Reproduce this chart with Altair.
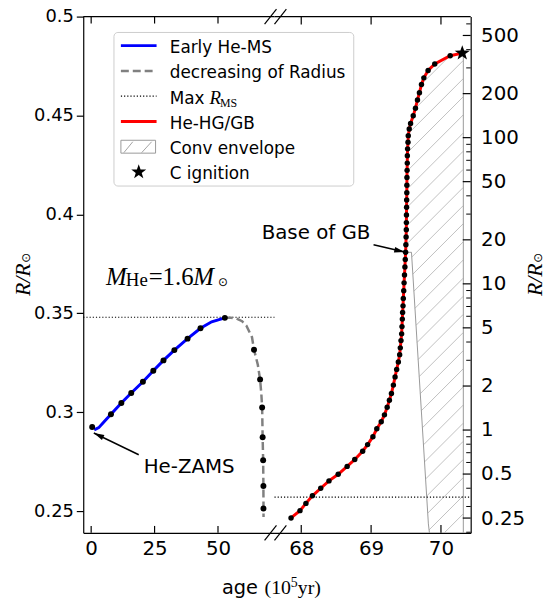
import math
import numpy as np
import pandas as pd
import altair as alt

# ----------------------------- data -----------------------------
ms_line_age = [1.2, 3.0, 5.0, 7.8, 11.9, 15.8, 20.4, 24.5, 28.5, 32.8, 38.0, 43.1, 47.5, 52.7]
ms_line_r = [0.2911, 0.2922, 0.2950, 0.2990, 0.3047, 0.3097, 0.3154, 0.3210, 0.3262, 0.3314, 0.3372, 0.3424, 0.3457, 0.3477]
ms_dot_age = [0.4, 7.8, 11.9, 15.8, 20.4, 24.5, 28.5, 32.8, 38.0, 43.1, 52.7]
ms_dot_r = [0.2925, 0.2990, 0.3047, 0.3097, 0.3154, 0.3210, 0.3262, 0.3314, 0.3372, 0.3424, 0.3477]
dec_line_age = [52.7, 55.0, 57.3, 59.5, 61.2, 63.4, 64.2, 65.7, 66.6, 67.1, 67.4, 67.6, 67.8, 67.9, 67.95]
dec_line_r = [0.3477, 0.3478, 0.3474, 0.3460, 0.3437, 0.3379, 0.3316, 0.3240, 0.3165, 0.3090, 0.3024, 0.2873, 0.2757, 0.2627, 0.2470]
dec_dot_age = [64.2, 66.6, 67.4, 67.6, 67.8, 67.9, 67.92]
dec_dot_r = [0.3316, 0.3165, 0.3024, 0.2873, 0.2757, 0.2627, 0.2513]
R_MS_MAX = 0.348

red_age = [67.854, 67.982, 68.067, 68.160, 68.279, 68.397, 68.529, 68.657, 68.766, 68.879,
           68.950, 69.026, 69.082, 69.145, 69.191, 69.230, 69.262, 69.291, 69.319, 69.343,
           69.366, 69.390, 69.409, 69.418, 69.428, 69.437, 69.442, 69.447, 69.451, 69.457,
           69.461, 69.467, 69.472, 69.478, 69.484, 69.489, 69.494, 69.498, 69.501, 69.504,
           69.505, 69.506, 69.508, 69.509, 69.511, 69.512, 69.513, 69.515, 69.518, 69.519,
           69.522, 69.528, 69.532, 69.546, 69.565, 69.603, 69.635, 69.664, 69.692, 69.721,
           69.755, 69.816, 69.911, 70.132]
red_r = [0.2505, 0.281, 0.315, 0.355, 0.400, 0.449, 0.498, 0.564, 0.629, 0.717,
         0.795, 0.901, 1.02, 1.14, 1.27, 1.43, 1.60, 1.78, 2.03, 2.31,
         2.60, 2.92, 3.28, 3.65, 4.09, 4.55, 5.10, 5.74, 6.38, 7.07,
         7.94, 8.97, 10.16, 11.51, 13.04, 14.66, 16.43, 18.53, 20.89, 23.42,
         26.24, 29.59, 33.38, 37.41, 41.93, 47.27, 53.32, 59.75, 66.96, 75.16,
         83.82, 92.92, 103.2, 114.6, 125.0, 141.0, 159.0, 181.0, 202.8, 231.2,
         256.5, 287.8, 319.0, 363.7]
STAR_AGE, STAR_R = 70.305, 378.6
GB_R = 16.43
env_right_age = 70.32
env_low_age = [69.835, 69.82, 69.578, 69.494]
env_low_r = [0.198, 0.228, 16.43, 16.43]

left_x_ticks = [0, 25, 50]
left_y_ticks = [0.25, 0.3, 0.35, 0.4, 0.45, 0.5]
right_x_ticks = [68, 69, 70]
right_y_ticks = [0.25, 0.5, 1, 2, 5, 10, 20, 50, 100, 200, 500]
right_y_minor = [0.2, 0.3, 0.4, 0.6, 0.7, 0.8, 0.9, 3, 4, 6, 7, 8, 9,
                 30, 40, 60, 70, 80, 90, 300, 400, 600]

legend_labels = ["Early He-MS", "decreasing of Radius", "Max", "He-HG/GB", "Conv envelope", "C ignition"]

# ----------------------------- layout -----------------------------
LW, RW, H = 193, 198, 521
L_DOM = [-3.125, 72.27]
R_DOM = [67.617, 70.4255]
YL_DOM = [0.239, 0.5]
YR_DOM = [0.198, 673.0]

xl_scale = alt.Scale(domain=L_DOM, nice=False, zero=False)
yl_scale = alt.Scale(domain=YL_DOM, nice=False, zero=False)
xr_scale = alt.Scale(domain=R_DOM, nice=False, zero=False)
yr_scale = alt.Scale(type="log", domain=YR_DOM, nice=False)

ppaL = LW / (L_DOM[1] - L_DOM[0])
pprL = H / (YL_DOM[1] - YL_DOM[0])
ppaR = RW / (R_DOM[1] - R_DOM[0])
ly0, ly1 = math.log10(YR_DOM[0]), math.log10(YR_DOM[1])
ppdR = H / (ly1 - ly0)

SANS = "DejaVu Sans"
SERIF = "Liberation Serif"
one = pd.DataFrame({"k": [0]})

axis_common = dict(labelFont=SANS, labelColor="black", domainColor="black", domainWidth=1.2,
                   grid=False, title=None, labelOverlap=False)
left_x_axis = alt.Axis(values=left_x_ticks, ticks=False, labelPadding=6, labelFontSize=20, **axis_common)
left_y_axis = alt.Axis(values=left_y_ticks, format="~g", tickSize=7, tickWidth=1.2, tickColor="black",
                       labelPadding=3, labelFontSize=18, **axis_common)
right_x_axis = alt.Axis(values=right_x_ticks, ticks=False, labelPadding=6, labelFontSize=20, **axis_common)
right_y_axis = alt.Axis(values=right_y_ticks, format="~g", orient="right", ticks=False,
                        labelPadding=10, labelFontSize=20, **axis_common)


def XL(f="age"):
    return alt.X(f, type="quantitative", scale=xl_scale, axis=left_x_axis)


def YL(f="r"):
    return alt.Y(f, type="quantitative", scale=yl_scale, axis=left_y_axis)


def XR(f="age"):
    return alt.X(f, type="quantitative", scale=xr_scale, axis=right_x_axis)


def YR(f="r"):
    return alt.Y(f, type="quantitative", scale=yr_scale, axis=right_y_axis)


def txt(x, y, s, size, font=SANS, style="normal", align="left", baseline="alphabetic", angle=0):
    return alt.Chart(one).mark_text(text=s, fontSize=size, font=font, fontStyle=style, align=align,
                                    baseline=baseline, angle=angle, color="black").encode(
        x=alt.value(x), y=alt.value(y))


def seg(x1, y1, x2, y2, color="black", width=1.2, dash=None):
    kw = dict(color=color, strokeWidth=width)
    if dash:
        kw["strokeDash"] = dash
    return alt.Chart(one).mark_rule(**kw).encode(x=alt.value(x1), y=alt.value(y1),
                                                x2=alt.value(x2), y2=alt.value(y2))


def ang(dx, dy):
    return float(math.degrees(math.atan2(dx, -dy)) % 360)


ARROW = "M0,0L0.55,2L-0.55,2Z"
_pts = []
for k in range(10):
    rad = 1.0 if k % 2 == 0 else 0.40
    a = math.radians(-90 + 36 * k)
    _pts.append(f"{rad * math.cos(a):.4f},{rad * math.sin(a):.4f}")
STAR = "M" + "L".join(_pts) + "Z"

# ----------------------------- left panel -----------------------------
df_ms = pd.DataFrame({"age": ms_line_age, "r": ms_line_r, "i": list(range(len(ms_line_age)))})
df_dec = pd.DataFrame({"age": dec_line_age, "r": dec_line_r, "i": list(range(len(dec_line_age)))})
df_ldots = pd.DataFrame({"age": ms_dot_age + dec_dot_age, "r": ms_dot_r + dec_dot_r})

blue = alt.Chart(df_ms).mark_line(color="#0000ff", strokeWidth=3).encode(x=XL(), y=YL(), order="i:Q")
dashed = alt.Chart(df_dec).mark_line(color="#808080", strokeWidth=2.5, strokeDash=[8, 4]).encode(
    x=XL(), y=YL(), order="i:Q")
ldots = alt.Chart(df_ldots).mark_circle(size=36, color="black", opacity=1).encode(x=XL(), y=YL())
rms_l = alt.Chart(pd.DataFrame({"r": [R_MS_MAX]})).mark_rule(color="black", strokeWidth=1.2, strokeDash=[1.2, 2]).encode(
    y=YL(), x=alt.value(0), x2=alt.value(LW))

ltick_df = pd.DataFrame({"age": left_x_ticks})
ltick_top = alt.Chart(ltick_df).mark_rule(color="black", strokeWidth=1.2).encode(x=XL(), y=alt.value(0), y2=alt.value(7))
ltick_bot = alt.Chart(ltick_df).mark_rule(color="black", strokeWidth=1.2).encode(x=XL(), y=alt.value(H - 7), y2=alt.value(H))

zt_a, zt_r = 1.05, 0.2895
zs_a, zs_r = 18.75, 0.2785
zams_arrow = alt.Chart(pd.DataFrame({"age": [zs_a], "r": [zs_r], "age2": [zt_a], "r2": [zt_r]})).mark_rule(
    color="black", strokeWidth=1.5).encode(x=XL(), y=YL(), x2=alt.X2("age2"), y2=alt.Y2("r2"))
zams_head = alt.Chart(pd.DataFrame({"age": [zt_a], "r": [zt_r]})).mark_point(
    shape=ARROW, filled=True, size=110, opacity=1, color="black",
    angle=ang((zt_a - zs_a) * ppaL, -(zt_r - zs_r) * pprL)).encode(x=XL(), y=YL())
zams_text = alt.Chart(pd.DataFrame({"age": [20.7], "r": [0.2694]})).mark_text(
    text="He-ZAMS", fontSize=20, font=SANS, align="left", baseline="alphabetic", color="black").encode(x=XL(), y=YL())

leg_y = [29.3 + 25.5 * i for i in range(6)]
legend = [
    alt.Chart(one).mark_rect(fill="white", fillOpacity=0.85, stroke="#cccccc", strokeWidth=1, cornerRadius=4).encode(
        x=alt.value(31), x2=alt.value(273), y=alt.value(16), y2=alt.value(171)),
    seg(38, leg_y[0], 74, leg_y[0], color="#0000ff", width=3),
    seg(38, leg_y[1], 74, leg_y[1], color="#808080", width=2.5, dash=[8, 4]),
    seg(38, leg_y[2], 74, leg_y[2], color="black", width=1.2, dash=[1.2, 2]),
    seg(38, leg_y[3], 74, leg_y[3], color="#ff0000", width=3),
    alt.Chart(one).mark_rect(fill="white", stroke="#999999", strokeWidth=1).encode(
        x=alt.value(38), x2=alt.value(73), y=alt.value(leg_y[4] - 6.5), y2=alt.value(leg_y[4] + 6.5)),
    seg(41, leg_y[4] + 6, 50, leg_y[4] - 5, color="#999999", width=0.9),
    seg(59, leg_y[4] + 6, 69, leg_y[4] - 5, color="#999999", width=0.9),
    alt.Chart(one).mark_point(shape=STAR, filled=True, size=250, opacity=1, color="black").encode(
        x=alt.value(56), y=alt.value(leg_y[5])),
]
for i, lab in enumerate(legend_labels):
    legend.append(txt(87.3, leg_y[i] + 7.5, lab, 17))
legend.append(txt(127.5, leg_y[2] + 7.5, "R", 19, font=SERIF, style="italic"))
legend.append(txt(138, leg_y[2] + 11, "MS", 12, font=SERIF))

mhe = [
    txt(23, 271, "M", 25, font=SERIF, style="italic"),
    txt(43, 272, "He", 19, font=SERIF),
    txt(66, 271, "=1.6", 25, font=SERIF),
    txt(111, 271, "M", 25, font=SERIF, style="italic"),
    txt(141, 268, "⊙", 12, font=SANS, align="center", baseline="middle"),
]
xtitle = [
    txt(140, 583, "age", 19.5),
    txt(183, 583, "(10", 20, font=SERIF),
    txt(209.5, 576, "5", 14, font=SERIF),
    txt(216.5, 583, "yr)", 20, font=SERIF),
]
ltitle = [
    txt(-54, 282, "R/R", 22, font=SERIF, style="italic", angle=270),
    txt(-58, 243.5, "⊙", 12, font=SANS, align="center", baseline="middle", angle=270),
]
breaks = [
    seg(183, 7.5, 195, -7.5), seg(193, 7.5, 205, -7.5),
    seg(183, H + 7.5, 195, H - 7.5), seg(193, H + 7.5, 205, H - 7.5),
]

left = alt.layer(
    rms_l, blue, dashed, ldots, ltick_top, ltick_bot, seg(0, 0, LW, 0),
    zams_arrow, zams_head, zams_text,
    *mhe, *xtitle, *ltitle, *breaks, *legend,
).properties(width=LW, height=H)

# ----------------------------- right panel -----------------------------
red_all_age = np.array(red_age + [STAR_AGE])
red_all_lr = np.log10(np.array(red_r + [STAR_R]))
env_lr = np.log10(np.array(env_low_r[:3]))
env_ag = np.array(env_low_age[:3])
lr_gb = math.log10(GB_R)
HATCH_GAP = 18.3
u_phase = (env_right_age - R_DOM[0]) * ppaR
w_phase = (math.log10(1.115) - ly0) * ppdR
c0 = w_phase - u_phase
us = np.arange((69.45 - R_DOM[0]) * ppaR, (env_right_age - R_DOM[0]) * ppaR + 1e-9, 0.2)
ages = R_DOM[0] + us / ppaR
hatch = []
for n in range(-80, 80):
    c = c0 + n * HATCH_GAP
    lrs = ly0 + (us + c) / ppdR
    le = np.where(lrs >= lr_gb, np.interp(lrs, red_all_lr, red_all_age), np.interp(lrs, env_lr, env_ag))
    inside = (lrs >= ly0) & (lrs <= math.log10(STAR_R)) & (ages >= le) & (ages <= env_right_age)
    idx = np.flatnonzero(inside)
    if idx.size < 2:
        continue
    for run in np.split(idx, np.flatnonzero(np.diff(idx) > 1) + 1):
        if len(run) < 2:
            continue
        hatch.append((float(ages[run[0]]), float(10 ** lrs[run[0]]),
                      float(ages[run[-1]]), float(10 ** lrs[run[-1]])))
df_hatch = pd.DataFrame(hatch, columns=["age", "r", "age2", "r2"])

hatch_l = alt.Chart(df_hatch).mark_rule(color="#b0b0b0", strokeWidth=0.8).encode(
    x=XR(), y=YR(), x2=alt.X2("age2"), y2=alt.Y2("r2"))
env_df = pd.DataFrame({"age": env_low_age, "r": env_low_r, "i": list(range(len(env_low_age)))})
env_left = alt.Chart(env_df).mark_line(color="#999999", strokeWidth=1).encode(x=XR(), y=YR(), order="i:Q")
env_r_df = pd.DataFrame({"age": [env_right_age, env_right_age], "r": [YR_DOM[0], STAR_R], "i": [0, 1]})
env_right = alt.Chart(env_r_df).mark_line(color="#999999", strokeWidth=1).encode(x=XR(), y=YR(), order="i:Q")
rms_r = alt.Chart(pd.DataFrame({"r": [R_MS_MAX]})).mark_rule(color="black", strokeWidth=1.2, strokeDash=[1.2, 2]).encode(
    y=YR(), x=alt.value(0), x2=alt.value(RW))
df_red = pd.DataFrame({"age": red_age + [STAR_AGE], "r": red_r + [STAR_R], "i": list(range(len(red_age) + 1))})
red = alt.Chart(df_red).mark_line(color="#ff0000", strokeWidth=3).encode(x=XR(), y=YR(), order="i:Q")
rdots = alt.Chart(pd.DataFrame({"age": red_age, "r": red_r})).mark_circle(size=30, color="black", opacity=1).encode(
    x=XR(), y=YR())
star = alt.Chart(pd.DataFrame({"age": [STAR_AGE], "r": [STAR_R]})).mark_point(
    shape=STAR, filled=True, size=260, opacity=1, color="black").encode(x=XR(), y=YR())
rtick_df = pd.DataFrame({"age": right_x_ticks})
rtick_top = alt.Chart(rtick_df).mark_rule(color="black", strokeWidth=1.2).encode(x=XR(), y=alt.value(0), y2=alt.value(8))
rtick_bot = alt.Chart(rtick_df).mark_rule(color="black", strokeWidth=1.2).encode(x=XR(), y=alt.value(H - 8), y2=alt.value(H))
ymaj = alt.Chart(pd.DataFrame({"r": right_y_ticks})).mark_rule(color="black", strokeWidth=1.2).encode(
    y=YR(), x=alt.value(RW - 8), x2=alt.value(RW))
ymin_l = alt.Chart(pd.DataFrame({"r": right_y_minor})).mark_rule(color="black", strokeWidth=1).encode(
    y=YR(), x=alt.value(RW - 4.5), x2=alt.value(RW))
bt_a, bt_r = 69.48, 16.5
bs_a, bs_r = 69.035, 18.5
gb_arrow = alt.Chart(pd.DataFrame({"age": [bs_a], "r": [bs_r], "age2": [bt_a], "r2": [bt_r]})).mark_rule(
    color="black", strokeWidth=1.5).encode(x=XR(), y=YR(), x2=alt.X2("age2"), y2=alt.Y2("r2"))
gb_head = alt.Chart(pd.DataFrame({"age": [bt_a], "r": [bt_r]})).mark_point(
    shape=ARROW, filled=True, size=110, opacity=1, color="black",
    angle=ang((bt_a - bs_a) * ppaR, -(math.log10(bt_r) - math.log10(bs_r)) * ppdR)).encode(x=XR(), y=YR())
gb_text = alt.Chart(pd.DataFrame({"age": [67.433], "r": [20.25]})).mark_text(
    text="Base of GB", fontSize=20, font=SANS, align="left", baseline="alphabetic", color="black").encode(x=XR(), y=YR())

rtitle = [
    txt(270, 282, "R/R", 22, font=SERIF, style="italic", angle=270),
    txt(266, 243.5, "⊙", 12, font=SANS, align="center", baseline="middle", angle=270),
]

right = alt.layer(
    hatch_l, env_left, env_right, rms_r, red, rdots, star,
    rtick_top, rtick_bot, ymaj, ymin_l, seg(0, 0, RW, 0),
    gb_arrow, gb_head, gb_text, *rtitle,
).properties(width=RW, height=H)

chart = alt.hconcat(left, right, spacing=0, bounds="flush").properties(
    padding={"left": 12, "top": 5, "right": 0, "bottom": 0},
    background="white",
).configure_view(stroke=None)

chart.save("out.html", embed_options={"renderer": "svg", "actions": False})
